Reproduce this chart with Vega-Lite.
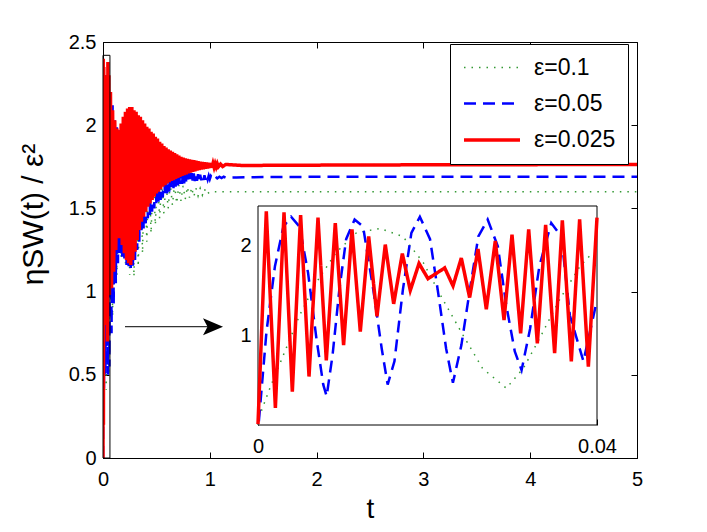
{
  "$schema": "https://vega.github.io/schema/vega-lite/v6.json",
  "width": 534,
  "height": 416,
  "autosize": {"type": "none"},
  "padding": {"left": 103, "top": 42, "right": 70, "bottom": 74},
  "background": "white",
  "config": {
    "font": "Liberation Sans",
    "view": {"stroke": "black", "strokeWidth": 1},
    "axis": {"grid": false, "domainColor": "black", "tickColor": "black", "tickSize": -6, "labelFontSize": 20, "labelColor": "black", "labelFlush": false, "labelOverlap": false, "titleFontSize": 26, "titleFontWeight": "normal", "titleColor": "black", "labelFont": "Liberation Sans", "titleFont": "Liberation Sans", "format": "~g"},
    "legend": {"labelFontSize": 23, "labelFont": "Liberation Sans", "labelColor": "black", "symbolType": "M-1,0H4.6", "symbolSize": 400, "labelOffset": 48, "padding": 12, "rowPadding": 12, "strokeColor": "black", "fillColor": "white"}
  },
  "datasets": {
    "one": [{}],
    "main": [
      {"s": "ε=0.1", "t": 0, "v": 0}, {"s": "ε=0.1", "t": 0.005, "v": 1.2}, {"s": "ε=0.1", "t": 0.009, "v": 1.92}, {"s": "ε=0.1", "t": 0.0144, "v": 2.19}, {"s": "ε=0.1", "t": 0.02, "v": 1.8}, {"s": "ε=0.1", "t": 0.025, "v": 0.8}, {"s": "ε=0.1", "t": 0.0297, "v": 0.41}, {"s": "ε=0.1", "t": 0.035, "v": 1.3}, {"s": "ε=0.1", "t": 0.04, "v": 2.0}, {"s": "ε=0.1", "t": 0.046, "v": 2.2},
      {"s": "ε=0.1", "t": 0.052, "v": 0.5}, {"s": "ε=0.1", "t": 0.07, "v": 2.1}, {"s": "ε=0.1", "t": 0.09, "v": 0.85}, {"s": "ε=0.1", "t": 0.11, "v": 2.0}, {"s": "ε=0.1", "t": 0.13, "v": 1.1}, {"s": "ε=0.1", "t": 0.15, "v": 1.92}, {"s": "ε=0.1", "t": 0.17, "v": 1.2}, {"s": "ε=0.1", "t": 0.19, "v": 1.9}, {"s": "ε=0.1", "t": 0.21, "v": 1.17}, {"s": "ε=0.1", "t": 0.23, "v": 1.9},
      {"s": "ε=0.1", "t": 0.25, "v": 1.1}, {"s": "ε=0.1", "t": 0.27, "v": 1.9}, {"s": "ε=0.1", "t": 0.29, "v": 1.09}, {"s": "ε=0.1", "t": 0.31, "v": 1.88}, {"s": "ε=0.1", "t": 0.33, "v": 1.15}, {"s": "ε=0.1", "t": 0.35, "v": 1.84}, {"s": "ε=0.1", "t": 0.37, "v": 1.23}, {"s": "ε=0.1", "t": 0.39, "v": 1.8}, {"s": "ε=0.1", "t": 0.41, "v": 1.3}, {"s": "ε=0.1", "t": 0.43, "v": 1.76},
      {"s": "ε=0.1", "t": 0.45, "v": 1.35}, {"s": "ε=0.1", "t": 0.47, "v": 1.72}, {"s": "ε=0.1", "t": 0.49, "v": 1.4}, {"s": "ε=0.1", "t": 0.51, "v": 1.7}, {"s": "ε=0.1", "t": 0.53, "v": 1.44}, {"s": "ε=0.1", "t": 0.55, "v": 1.68}, {"s": "ε=0.1", "t": 0.57, "v": 1.47}, {"s": "ε=0.1", "t": 0.59, "v": 1.66}, {"s": "ε=0.1", "t": 0.61, "v": 1.5}, {"s": "ε=0.1", "t": 0.63, "v": 1.65},
      {"s": "ε=0.1", "t": 0.65, "v": 1.52}, {"s": "ε=0.1", "t": 0.67, "v": 1.645}, {"s": "ε=0.1", "t": 0.69, "v": 1.53}, {"s": "ε=0.1", "t": 0.71, "v": 1.64}, {"s": "ε=0.1", "t": 0.73, "v": 1.545}, {"s": "ε=0.1", "t": 0.75, "v": 1.635}, {"s": "ε=0.1", "t": 0.77, "v": 1.555}, {"s": "ε=0.1", "t": 0.79, "v": 1.63}, {"s": "ε=0.1", "t": 0.81, "v": 1.565}, {"s": "ε=0.1", "t": 0.83, "v": 1.626},
      {"s": "ε=0.1", "t": 0.85, "v": 1.57}, {"s": "ε=0.1", "t": 0.87, "v": 1.622}, {"s": "ε=0.1", "t": 0.89, "v": 1.575}, {"s": "ε=0.1", "t": 0.91, "v": 1.62}, {"s": "ε=0.1", "t": 0.93, "v": 1.58}, {"s": "ε=0.1", "t": 0.95, "v": 1.618}, {"s": "ε=0.1", "t": 0.97, "v": 1.583}, {"s": "ε=0.1", "t": 1.0, "v": 1.6}, {"s": "ε=0.1", "t": 1.2, "v": 1.6}, {"s": "ε=0.1", "t": 5, "v": 1.6},

      {"s": "ε=0.05", "t": 0, "v": 0}, {"s": "ε=0.05", "t": 0.003, "v": 1.0}, {"s": "ε=0.05", "t": 0.006, "v": 2.3}, {"s": "ε=0.05", "t": 0.009, "v": 0.4}, {"s": "ε=0.05", "t": 0.012, "v": 2.3}, {"s": "ε=0.05", "t": 0.015, "v": 0.5}, {"s": "ε=0.05", "t": 0.019, "v": 2.3}, {"s": "ε=0.05", "t": 0.023, "v": 0.5}, {"s": "ε=0.05", "t": 0.027, "v": 2.3}, {"s": "ε=0.05", "t": 0.031, "v": 0.6},
      {"s": "ε=0.05", "t": 0.035, "v": 2.25}, {"s": "ε=0.05", "t": 0.039, "v": 0.7}, {"s": "ε=0.05", "t": 0.043, "v": 2.3}, {"s": "ε=0.05", "t": 0.047, "v": 0.5},
      {"s": "ε=0.05", "t": 0.05, "v": 2.3}, {"s": "ε=0.05", "t": 0.06, "v": 0.55}, {"s": "ε=0.05", "t": 0.07, "v": 2.2}, {"s": "ε=0.05", "t": 0.08, "v": 0.75}, {"s": "ε=0.05", "t": 0.09, "v": 2.12}, {"s": "ε=0.05", "t": 0.1, "v": 0.92}, {"s": "ε=0.05", "t": 0.11, "v": 2.05}, {"s": "ε=0.05", "t": 0.12, "v": 1.05}, {"s": "ε=0.05", "t": 0.13, "v": 2.0}, {"s": "ε=0.05", "t": 0.14, "v": 1.17},
      {"s": "ε=0.05", "t": 0.15, "v": 1.97}, {"s": "ε=0.05", "t": 0.16, "v": 1.22}, {"s": "ε=0.05", "t": 0.17, "v": 1.95}, {"s": "ε=0.05", "t": 0.18, "v": 1.21}, {"s": "ε=0.05", "t": 0.19, "v": 1.96}, {"s": "ε=0.05", "t": 0.2, "v": 1.19}, {"s": "ε=0.05", "t": 0.21, "v": 1.98}, {"s": "ε=0.05", "t": 0.22, "v": 1.16}, {"s": "ε=0.05", "t": 0.23, "v": 1.99}, {"s": "ε=0.05", "t": 0.24, "v": 1.14},
      {"s": "ε=0.05", "t": 0.25, "v": 2.0}, {"s": "ε=0.05", "t": 0.26, "v": 1.13}, {"s": "ε=0.05", "t": 0.27, "v": 2.0}, {"s": "ε=0.05", "t": 0.28, "v": 1.15}, {"s": "ε=0.05", "t": 0.29, "v": 1.98}, {"s": "ε=0.05", "t": 0.3, "v": 1.19}, {"s": "ε=0.05", "t": 0.31, "v": 1.97}, {"s": "ε=0.05", "t": 0.32, "v": 1.25}, {"s": "ε=0.05", "t": 0.33, "v": 1.95}, {"s": "ε=0.05", "t": 0.34, "v": 1.3},
      {"s": "ε=0.05", "t": 0.35, "v": 1.935}, {"s": "ε=0.05", "t": 0.36, "v": 1.35}, {"s": "ε=0.05", "t": 0.37, "v": 1.92}, {"s": "ε=0.05", "t": 0.38, "v": 1.38}, {"s": "ε=0.05", "t": 0.39, "v": 1.9}, {"s": "ε=0.05", "t": 0.4, "v": 1.41}, {"s": "ε=0.05", "t": 0.41, "v": 1.88}, {"s": "ε=0.05", "t": 0.42, "v": 1.44}, {"s": "ε=0.05", "t": 0.43, "v": 1.865}, {"s": "ε=0.05", "t": 0.44, "v": 1.46},
      {"s": "ε=0.05", "t": 0.45, "v": 1.85}, {"s": "ε=0.05", "t": 0.46, "v": 1.48}, {"s": "ε=0.05", "t": 0.47, "v": 1.835}, {"s": "ε=0.05", "t": 0.48, "v": 1.5}, {"s": "ε=0.05", "t": 0.49, "v": 1.82}, {"s": "ε=0.05", "t": 0.5, "v": 1.52}, {"s": "ε=0.05", "t": 0.51, "v": 1.81}, {"s": "ε=0.05", "t": 0.52, "v": 1.535}, {"s": "ε=0.05", "t": 0.53, "v": 1.8}, {"s": "ε=0.05", "t": 0.54, "v": 1.55},
      {"s": "ε=0.05", "t": 0.55, "v": 1.79}, {"s": "ε=0.05", "t": 0.56, "v": 1.565}, {"s": "ε=0.05", "t": 0.57, "v": 1.78}, {"s": "ε=0.05", "t": 0.58, "v": 1.58}, {"s": "ε=0.05", "t": 0.59, "v": 1.77}, {"s": "ε=0.05", "t": 0.6, "v": 1.59},
      {"s": "ε=0.05", "t": 0.61, "v": 1.765}, {"s": "ε=0.05", "t": 0.62, "v": 1.6}, {"s": "ε=0.05", "t": 0.63, "v": 1.757}, {"s": "ε=0.05", "t": 0.64, "v": 1.617}, {"s": "ε=0.05", "t": 0.65, "v": 1.75}, {"s": "ε=0.05", "t": 0.66, "v": 1.622}, {"s": "ε=0.05", "t": 0.67, "v": 1.745}, {"s": "ε=0.05", "t": 0.68, "v": 1.63}, {"s": "ε=0.05", "t": 0.69, "v": 1.74}, {"s": "ε=0.05", "t": 0.7, "v": 1.636},
      {"s": "ε=0.05", "t": 0.71, "v": 1.735}, {"s": "ε=0.05", "t": 0.72, "v": 1.642}, {"s": "ε=0.05", "t": 0.73, "v": 1.73}, {"s": "ε=0.05", "t": 0.74, "v": 1.647}, {"s": "ε=0.05", "t": 0.75, "v": 1.725}, {"s": "ε=0.05", "t": 0.76, "v": 1.651}, {"s": "ε=0.05", "t": 0.77, "v": 1.72}, {"s": "ε=0.05", "t": 0.78, "v": 1.654}, {"s": "ε=0.05", "t": 0.79, "v": 1.717}, {"s": "ε=0.05", "t": 0.8, "v": 1.657},
      {"s": "ε=0.05", "t": 0.81, "v": 1.715}, {"s": "ε=0.05", "t": 0.82, "v": 1.66}, {"s": "ε=0.05", "t": 0.83, "v": 1.712}, {"s": "ε=0.05", "t": 0.84, "v": 1.662}, {"s": "ε=0.05", "t": 0.85, "v": 1.71}, {"s": "ε=0.05", "t": 0.86, "v": 1.664}, {"s": "ε=0.05", "t": 0.87, "v": 1.707}, {"s": "ε=0.05", "t": 0.88, "v": 1.666}, {"s": "ε=0.05", "t": 0.89, "v": 1.705}, {"s": "ε=0.05", "t": 0.9, "v": 1.667},
      {"s": "ε=0.05", "t": 0.91, "v": 1.703}, {"s": "ε=0.05", "t": 0.92, "v": 1.669}, {"s": "ε=0.05", "t": 0.93, "v": 1.7}, {"s": "ε=0.05", "t": 0.94, "v": 1.671}, {"s": "ε=0.05", "t": 0.95, "v": 1.699}, {"s": "ε=0.05", "t": 0.96, "v": 1.673}, {"s": "ε=0.05", "t": 0.97, "v": 1.698}, {"s": "ε=0.05", "t": 0.98, "v": 1.674}, {"s": "ε=0.05", "t": 0.99, "v": 1.697}, {"s": "ε=0.05", "t": 1.0, "v": 1.676},
      {"s": "ε=0.05", "t": 1.01, "v": 1.695}, {"s": "ε=0.05", "t": 1.03, "v": 1.678}, {"s": "ε=0.05", "t": 1.05, "v": 1.693}, {"s": "ε=0.05", "t": 1.07, "v": 1.68}, {"s": "ε=0.05", "t": 1.09, "v": 1.69}, {"s": "ε=0.05", "t": 1.11, "v": 1.682},
      {"s": "ε=0.05", "t": 1.13, "v": 1.69}, {"s": "ε=0.05", "t": 1.15, "v": 1.684}, {"s": "ε=0.05", "t": 1.25, "v": 1.686}, {"s": "ε=0.05", "t": 1.5, "v": 1.688}, {"s": "ε=0.05", "t": 2, "v": 1.69}, {"s": "ε=0.05", "t": 5, "v": 1.69},

      {"s": "ε=0.025", "t": 0, "v": 0}, {"s": "ε=0.025", "t": 0.002, "v": 2.4}, {"s": "ε=0.025", "t": 0.004, "v": 0.2}, {"s": "ε=0.025", "t": 0.007, "v": 2.35}, {"s": "ε=0.025", "t": 0.01, "v": 0.8}, {"s": "ε=0.025", "t": 0.014, "v": 2.1}, {"s": "ε=0.025", "t": 0.018, "v": 1.4}, {"s": "ε=0.025", "t": 0.022, "v": 1.8}, {"s": "ε=0.025", "t": 0.026, "v": 1.3}, {"s": "ε=0.025", "t": 0.03, "v": 2.1},
      {"s": "ε=0.025", "t": 0.034, "v": 0.9}, {"s": "ε=0.025", "t": 0.038, "v": 2.3}, {"s": "ε=0.025", "t": 0.042, "v": 0.7}, {"s": "ε=0.025", "t": 0.046, "v": 2.38},
      {"s": "ε=0.025", "t": 0.05, "v": 1.0}, {"s": "ε=0.025", "t": 0.055, "v": 2.3}, {"s": "ε=0.025", "t": 0.06, "v": 0.98}, {"s": "ε=0.025", "t": 0.07, "v": 2.2}, {"s": "ε=0.025", "t": 0.08, "v": 1.02}, {"s": "ε=0.025", "t": 0.09, "v": 2.09}, {"s": "ε=0.025", "t": 0.1, "v": 1.12}, {"s": "ε=0.025", "t": 0.11, "v": 2.03}, {"s": "ε=0.025", "t": 0.12, "v": 1.25}, {"s": "ε=0.025", "t": 0.13, "v": 1.98},
      {"s": "ε=0.025", "t": 0.14, "v": 1.32}, {"s": "ε=0.025", "t": 0.15, "v": 1.97}, {"s": "ε=0.025", "t": 0.16, "v": 1.32}, {"s": "ε=0.025", "t": 0.17, "v": 2.01}, {"s": "ε=0.025", "t": 0.18, "v": 1.28}, {"s": "ε=0.025", "t": 0.19, "v": 2.05}, {"s": "ε=0.025", "t": 0.2, "v": 1.23}, {"s": "ε=0.025", "t": 0.21, "v": 2.08}, {"s": "ε=0.025", "t": 0.22, "v": 1.19}, {"s": "ε=0.025", "t": 0.23, "v": 2.1},
      {"s": "ε=0.025", "t": 0.24, "v": 1.17}, {"s": "ε=0.025", "t": 0.25, "v": 2.11}, {"s": "ε=0.025", "t": 0.26, "v": 1.16}, {"s": "ε=0.025", "t": 0.27, "v": 2.11}, {"s": "ε=0.025", "t": 0.28, "v": 1.19}, {"s": "ε=0.025", "t": 0.29, "v": 2.09}, {"s": "ε=0.025", "t": 0.3, "v": 1.24}, {"s": "ε=0.025", "t": 0.31, "v": 2.08}, {"s": "ε=0.025", "t": 0.32, "v": 1.31}, {"s": "ε=0.025", "t": 0.33, "v": 2.06},
      {"s": "ε=0.025", "t": 0.34, "v": 1.37}, {"s": "ε=0.025", "t": 0.35, "v": 2.05}, {"s": "ε=0.025", "t": 0.36, "v": 1.42}, {"s": "ε=0.025", "t": 0.37, "v": 2.03}, {"s": "ε=0.025", "t": 0.38, "v": 1.45}, {"s": "ε=0.025", "t": 0.39, "v": 2.01}, {"s": "ε=0.025", "t": 0.4, "v": 1.48}, {"s": "ε=0.025", "t": 0.41, "v": 1.99}, {"s": "ε=0.025", "t": 0.42, "v": 1.51}, {"s": "ε=0.025", "t": 0.43, "v": 1.98},
      {"s": "ε=0.025", "t": 0.44, "v": 1.53}, {"s": "ε=0.025", "t": 0.45, "v": 1.96}, {"s": "ε=0.025", "t": 0.46, "v": 1.55}, {"s": "ε=0.025", "t": 0.47, "v": 1.95}, {"s": "ε=0.025", "t": 0.48, "v": 1.57}, {"s": "ε=0.025", "t": 0.49, "v": 1.93}, {"s": "ε=0.025", "t": 0.5, "v": 1.59}, {"s": "ε=0.025", "t": 0.51, "v": 1.92}, {"s": "ε=0.025", "t": 0.52, "v": 1.6}, {"s": "ε=0.025", "t": 0.53, "v": 1.9},
      {"s": "ε=0.025", "t": 0.54, "v": 1.615}, {"s": "ε=0.025", "t": 0.55, "v": 1.89}, {"s": "ε=0.025", "t": 0.56, "v": 1.63}, {"s": "ε=0.025", "t": 0.57, "v": 1.875}, {"s": "ε=0.025", "t": 0.58, "v": 1.64}, {"s": "ε=0.025", "t": 0.59, "v": 1.865}, {"s": "ε=0.025", "t": 0.6, "v": 1.65},
      {"s": "ε=0.025", "t": 0.61, "v": 1.855}, {"s": "ε=0.025", "t": 0.62, "v": 1.658}, {"s": "ε=0.025", "t": 0.63, "v": 1.848}, {"s": "ε=0.025", "t": 0.64, "v": 1.665}, {"s": "ε=0.025", "t": 0.65, "v": 1.84}, {"s": "ε=0.025", "t": 0.66, "v": 1.67}, {"s": "ε=0.025", "t": 0.67, "v": 1.832}, {"s": "ε=0.025", "t": 0.68, "v": 1.677}, {"s": "ε=0.025", "t": 0.69, "v": 1.825}, {"s": "ε=0.025", "t": 0.7, "v": 1.683},
      {"s": "ε=0.025", "t": 0.71, "v": 1.818}, {"s": "ε=0.025", "t": 0.72, "v": 1.69}, {"s": "ε=0.025", "t": 0.73, "v": 1.81}, {"s": "ε=0.025", "t": 0.74, "v": 1.695}, {"s": "ε=0.025", "t": 0.75, "v": 1.805}, {"s": "ε=0.025", "t": 0.76, "v": 1.7}, {"s": "ε=0.025", "t": 0.77, "v": 1.8}, {"s": "ε=0.025", "t": 0.78, "v": 1.705}, {"s": "ε=0.025", "t": 0.79, "v": 1.797}, {"s": "ε=0.025", "t": 0.8, "v": 1.71},
      {"s": "ε=0.025", "t": 0.81, "v": 1.795}, {"s": "ε=0.025", "t": 0.82, "v": 1.715}, {"s": "ε=0.025", "t": 0.83, "v": 1.792}, {"s": "ε=0.025", "t": 0.84, "v": 1.72}, {"s": "ε=0.025", "t": 0.85, "v": 1.79}, {"s": "ε=0.025", "t": 0.86, "v": 1.723}, {"s": "ε=0.025", "t": 0.87, "v": 1.787}, {"s": "ε=0.025", "t": 0.88, "v": 1.727}, {"s": "ε=0.025", "t": 0.89, "v": 1.784}, {"s": "ε=0.025", "t": 0.9, "v": 1.73},
      {"s": "ε=0.025", "t": 0.91, "v": 1.781}, {"s": "ε=0.025", "t": 0.92, "v": 1.733}, {"s": "ε=0.025", "t": 0.93, "v": 1.779}, {"s": "ε=0.025", "t": 0.94, "v": 1.736}, {"s": "ε=0.025", "t": 0.95, "v": 1.777}, {"s": "ε=0.025", "t": 0.96, "v": 1.738}, {"s": "ε=0.025", "t": 0.97, "v": 1.775}, {"s": "ε=0.025", "t": 0.98, "v": 1.741}, {"s": "ε=0.025", "t": 0.99, "v": 1.773}, {"s": "ε=0.025", "t": 1.0, "v": 1.743},
      {"s": "ε=0.025", "t": 1.01, "v": 1.772}, {"s": "ε=0.025", "t": 1.02, "v": 1.745}, {"s": "ε=0.025", "t": 1.03, "v": 1.77}, {"s": "ε=0.025", "t": 1.04, "v": 1.747}, {"s": "ε=0.025", "t": 1.05, "v": 1.769}, {"s": "ε=0.025", "t": 1.06, "v": 1.749}, {"s": "ε=0.025", "t": 1.07, "v": 1.768}, {"s": "ε=0.025", "t": 1.08, "v": 1.75}, {"s": "ε=0.025", "t": 1.1, "v": 1.766}, {"s": "ε=0.025", "t": 1.12, "v": 1.752},
      {"s": "ε=0.025", "t": 1.15, "v": 1.764}, {"s": "ε=0.025", "t": 1.3, "v": 1.758}, {"s": "ε=0.025", "t": 2, "v": 1.76}, {"s": "ε=0.025", "t": 3, "v": 1.762}, {"s": "ε=0.025", "t": 4, "v": 1.763}, {"s": "ε=0.025", "t": 5, "v": 1.764}
    ],
    "inset": [
      {"s": "ε=0.1", "t": 0.0001, "v": 0.08}, {"s": "ε=0.1", "t": 0.0014, "v": 0.41}, {"s": "ε=0.1", "t": 0.003, "v": 0.78}, {"s": "ε=0.1", "t": 0.0049, "v": 1.22}, {"s": "ε=0.1", "t": 0.0069, "v": 1.59}, {"s": "ε=0.1", "t": 0.0092, "v": 1.92}, {"s": "ε=0.1", "t": 0.0116, "v": 2.14}, {"s": "ε=0.1", "t": 0.0144, "v": 2.19}, {"s": "ε=0.1", "t": 0.0171, "v": 2.1}, {"s": "ε=0.1", "t": 0.0195, "v": 1.81},
      {"s": "ε=0.1", "t": 0.0218, "v": 1.4}, {"s": "ε=0.1", "t": 0.0242, "v": 1.0}, {"s": "ε=0.1", "t": 0.0265, "v": 0.63}, {"s": "ε=0.1", "t": 0.0293, "v": 0.41}, {"s": "ε=0.1", "t": 0.0313, "v": 0.63}, {"s": "ε=0.1", "t": 0.0332, "v": 0.96}, {"s": "ε=0.1", "t": 0.0356, "v": 1.4}, {"s": "ε=0.1", "t": 0.038, "v": 1.77}, {"s": "ε=0.1", "t": 0.0395, "v": 1.92},

      {"s": "ε=0.05", "t": 0.0001, "v": 0.04}, {"s": "ε=0.05", "t": 0.001, "v": 1.04}, {"s": "ε=0.05", "t": 0.002, "v": 1.77}, {"s": "ε=0.05", "t": 0.003, "v": 2.21}, {"s": "ε=0.05", "t": 0.0039, "v": 2.32}, {"s": "ε=0.05", "t": 0.0049, "v": 2.21}, {"s": "ε=0.05", "t": 0.0059, "v": 1.7}, {"s": "ε=0.05", "t": 0.0069, "v": 0.96}, {"s": "ε=0.05", "t": 0.0077, "v": 0.45}, {"s": "ε=0.05", "t": 0.0081, "v": 0.32},
      {"s": "ε=0.05", "t": 0.0088, "v": 0.78}, {"s": "ε=0.05", "t": 0.0096, "v": 1.51}, {"s": "ε=0.05", "t": 0.0104, "v": 2.07}, {"s": "ε=0.05", "t": 0.0114, "v": 2.29}, {"s": "ε=0.05", "t": 0.0124, "v": 2.21}, {"s": "ε=0.05", "t": 0.0136, "v": 1.51}, {"s": "ε=0.05", "t": 0.0146, "v": 0.85}, {"s": "ε=0.05", "t": 0.0153, "v": 0.45}, {"s": "ε=0.05", "t": 0.0161, "v": 0.71}, {"s": "ε=0.05", "t": 0.0171, "v": 1.51},
      {"s": "ε=0.05", "t": 0.0181, "v": 2.14}, {"s": "ε=0.05", "t": 0.0191, "v": 2.32}, {"s": "ε=0.05", "t": 0.0203, "v": 2.07}, {"s": "ε=0.05", "t": 0.0212, "v": 1.51}, {"s": "ε=0.05", "t": 0.0222, "v": 0.85}, {"s": "ε=0.05", "t": 0.023, "v": 0.47}, {"s": "ε=0.05", "t": 0.024, "v": 0.89}, {"s": "ε=0.05", "t": 0.025, "v": 1.51}, {"s": "ε=0.05", "t": 0.026, "v": 2.1}, {"s": "ε=0.05", "t": 0.0271, "v": 2.29},
      {"s": "ε=0.05", "t": 0.0283, "v": 1.99}, {"s": "ε=0.05", "t": 0.0293, "v": 1.33}, {"s": "ε=0.05", "t": 0.0303, "v": 0.82}, {"s": "ε=0.05", "t": 0.0311, "v": 0.61}, {"s": "ε=0.05", "t": 0.0321, "v": 1.07}, {"s": "ε=0.05", "t": 0.0332, "v": 1.77}, {"s": "ε=0.05", "t": 0.0346, "v": 2.25}, {"s": "ε=0.05", "t": 0.0358, "v": 2.1}, {"s": "ε=0.05", "t": 0.0368, "v": 1.22}, {"s": "ε=0.05", "t": 0.0384, "v": 0.71}, {"s": "ε=0.05", "t": 0.0399, "v": 1.35},

      {"s": "ε=0.025", "t": 0, "v": 0.01}, {"s": "ε=0.025", "t": 0.00098, "v": 2.38}, {"s": "ε=0.025", "t": 0.00205, "v": 0.19}, {"s": "ε=0.025", "t": 0.00307, "v": 2.37}, {"s": "ε=0.025", "t": 0.00405, "v": 0.37}, {"s": "ε=0.025", "t": 0.00503, "v": 2.34}, {"s": "ε=0.025", "t": 0.00602, "v": 0.54}, {"s": "ε=0.025", "t": 0.00708, "v": 2.31}, {"s": "ε=0.025", "t": 0.00806, "v": 0.72}, {"s": "ε=0.025", "t": 0.00912, "v": 2.25},
      {"s": "ε=0.025", "t": 0.0101, "v": 0.89}, {"s": "ε=0.025", "t": 0.01109, "v": 2.18}, {"s": "ε=0.025", "t": 0.01207, "v": 1.04}, {"s": "ε=0.025", "t": 0.01306, "v": 2.1}, {"s": "ε=0.025", "t": 0.01404, "v": 1.21}, {"s": "ε=0.025", "t": 0.01502, "v": 2.01}, {"s": "ε=0.025", "t": 0.01601, "v": 1.35}, {"s": "ε=0.025", "t": 0.01703, "v": 1.91}, {"s": "ε=0.025", "t": 0.01797, "v": 1.5}, {"s": "ε=0.025", "t": 0.019, "v": 1.8},
      {"s": "ε=0.025", "t": 0.02006, "v": 1.63}, {"s": "ε=0.025", "t": 0.02203, "v": 1.75}, {"s": "ε=0.025", "t": 0.02301, "v": 1.55}, {"s": "ε=0.025", "t": 0.02399, "v": 1.86}, {"s": "ε=0.025", "t": 0.02497, "v": 1.42}, {"s": "ε=0.025", "t": 0.02596, "v": 1.96}, {"s": "ε=0.025", "t": 0.02694, "v": 1.29}, {"s": "ε=0.025", "t": 0.028, "v": 2.05}, {"s": "ε=0.025", "t": 0.02903, "v": 1.17}, {"s": "ε=0.025", "t": 0.02997, "v": 2.12},
      {"s": "ε=0.025", "t": 0.03099, "v": 1.02}, {"s": "ε=0.025", "t": 0.03194, "v": 2.18}, {"s": "ε=0.025", "t": 0.03296, "v": 0.91}, {"s": "ε=0.025", "t": 0.03394, "v": 2.23}, {"s": "ε=0.025", "t": 0.035, "v": 0.8}, {"s": "ε=0.025", "t": 0.03591, "v": 2.28}, {"s": "ε=0.025", "t": 0.03697, "v": 0.71}, {"s": "ε=0.025", "t": 0.03795, "v": 2.29}, {"s": "ε=0.025", "t": 0.03898, "v": 0.65}, {"s": "ε=0.025", "t": 0.04, "v": 2.31}
    ]
  },
  "layer": [
    {
      "layer": [
        {"data": {"name": "main"}, "transform": [{"filter": "datum.s === 'ε=0.1'"}], "mark": {"type": "line", "clip": true},
         "encoding": {
           "x": {"field": "t", "type": "quantitative", "scale": {"domain": [0, 5], "nice": false, "zero": false}, "axis": {"orient": "bottom", "values": [0, 1, 2, 3, 4, 5], "format": "~g", "labelPadding": 17, "title": "t", "titlePadding": 6, "titleFontSize": 28}},
           "y": {"field": "v", "type": "quantitative", "scale": {"domain": [0, 2.5], "nice": false}, "axis": {"orient": "left", "values": [0, 0.5, 1, 1.5, 2, 2.5], "format": "~g", "labelPadding": 13, "title": "ηSW(t) / ε²", "titlePadding": 20, "titleFontSize": 30, "titleY": 172}},
           "color": {"field": "s", "type": "nominal", "scale": {"domain": ["ε=0.1", "ε=0.05", "ε=0.025"], "range": ["#339933", "#0000ff", "#ff0000"]}, "legend": {"orient": "none", "legendX": 347, "legendY": 2, "title": null}},
           "strokeDash": {"field": "s", "type": "nominal", "scale": {"domain": ["ε=0.1", "ε=0.05", "ε=0.025"], "range": [[1.5, 6], [12, 7], [1, 0]]}, "legend": {"orient": "none", "legendX": 347, "legendY": 2, "title": null}},
           "strokeWidth": {"field": "s", "type": "ordinal", "scale": {"domain": ["ε=0.1", "ε=0.05", "ε=0.025"], "range": [1.5, 3.5, 3.5]}, "legend": {"orient": "none", "legendX": 347, "legendY": 2, "title": null}}
         }},
        {"data": {"name": "main"}, "transform": [{"filter": "datum.s === 'ε=0.05'"}], "mark": {"type": "line", "clip": true},
         "encoding": {
           "x": {"field": "t", "type": "quantitative"},
           "y": {"field": "v", "type": "quantitative"},
           "color": {"field": "s", "type": "nominal"},
           "strokeDash": {"field": "s", "type": "nominal"},
           "strokeWidth": {"field": "s", "type": "ordinal"}
         }},
        {"data": {"name": "main"}, "transform": [{"filter": "datum.s === 'ε=0.025'"}], "mark": {"type": "line", "clip": true},
         "encoding": {
           "x": {"field": "t", "type": "quantitative"},
           "y": {"field": "v", "type": "quantitative"},
           "color": {"field": "s", "type": "nominal"},
           "strokeDash": {"field": "s", "type": "nominal"},
           "strokeWidth": {"field": "s", "type": "ordinal"}
         }},
        {"data": {"name": "one"}, "mark": {"type": "rule", "color": "black", "strokeWidth": 1},
         "encoding": {"x": {"datum": 0.206, "type": "quantitative"}, "x2": {"datum": 1.05}, "y": {"datum": 0.789, "type": "quantitative"}}},
        {"data": {"name": "one"}, "mark": {"type": "point", "shape": "M1,0L-1,-0.85L-0.55,0L-1,0.85Z", "filled": true, "color": "black", "size": 400, "opacity": 1},
         "encoding": {"x": {"datum": 1.03, "type": "quantitative"}, "y": {"datum": 0.789, "type": "quantitative"}}}
      ]
    },
    {
      "data": {"name": "one"},
      "mark": {"type": "rect", "fillOpacity": 0, "stroke": "black", "strokeWidth": 1},
      "encoding": {
        "x": {"datum": 0, "type": "quantitative", "scale": {"domain": [0, 5], "nice": false, "zero": false}, "axis": {"orient": "top", "labels": false, "domain": false, "values": [0, 1, 2, 3, 4, 5], "title": null}},
        "x2": {"datum": 0.065},
        "y": {"datum": 0, "type": "quantitative", "scale": {"domain": [0, 2.5], "nice": false}, "axis": {"orient": "right", "labels": false, "domain": false, "values": [0, 0.5, 1, 1.5, 2, 2.5], "title": null}},
        "y2": {"datum": 2.42}
      }
    },
    {
      "layer": [
        {"data": {"name": "one"}, "mark": {"type": "rect", "fill": "white", "stroke": "black", "strokeWidth": 1},
         "encoding": {
           "x": {"datum": 0, "type": "quantitative", "scale": {"domain": [0, 0.04], "range": [155, 494], "nice": false, "zero": false}, "axis": {"orient": "bottom", "offset": -33, "values": [0, 0.04], "format": "~g", "domain": false, "labelPadding": 17, "title": null}},
           "x2": {"datum": 0.04},
           "y": {"datum": 0, "type": "quantitative", "scale": {"domain": [0, 2.44], "range": [383, 164], "nice": false}, "axis": {"orient": "left", "offset": -155, "values": [1, 2], "format": "~g", "domain": false, "labelPadding": 13, "title": null}},
           "y2": {"datum": 2.44}
         }},
        {"data": {"name": "inset"}, "transform": [{"filter": "datum.s === 'ε=0.1'"}], "mark": {"type": "line"},
         "encoding": {"x": {"field": "t", "type": "quantitative"}, "y": {"field": "v", "type": "quantitative"}, "color": {"field": "s", "type": "nominal"}, "strokeDash": {"field": "s", "type": "nominal"}, "strokeWidth": {"field": "s", "type": "ordinal"}}},
        {"data": {"name": "inset"}, "transform": [{"filter": "datum.s === 'ε=0.05'"}], "mark": {"type": "line"},
         "encoding": {"x": {"field": "t", "type": "quantitative"}, "y": {"field": "v", "type": "quantitative"}, "color": {"field": "s", "type": "nominal"}, "strokeDash": {"field": "s", "type": "nominal"}, "strokeWidth": {"field": "s", "type": "ordinal"}}},
        {"data": {"name": "inset"}, "transform": [{"filter": "datum.s === 'ε=0.025'"}], "mark": {"type": "line"},
         "encoding": {"x": {"field": "t", "type": "quantitative"}, "y": {"field": "v", "type": "quantitative"}, "color": {"field": "s", "type": "nominal"}, "strokeDash": {"field": "s", "type": "nominal"}, "strokeWidth": {"field": "s", "type": "ordinal"}}}
      ]
    }
  ],
  "resolve": {"scale": {"x": "independent", "y": "independent"}}
}
